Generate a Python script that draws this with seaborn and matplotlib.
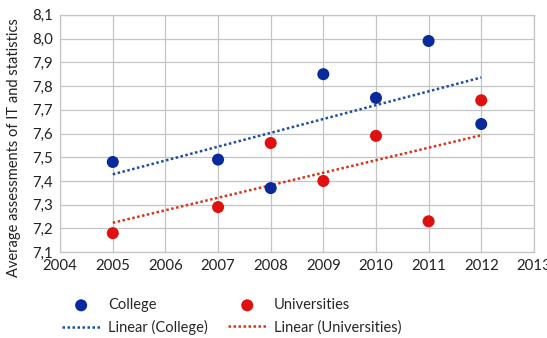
import numpy as np
import pandas as pd
import matplotlib
matplotlib.use("Agg")
import matplotlib.pyplot as plt
from matplotlib.ticker import FuncFormatter, MultipleLocator
import seaborn as sns

years = [2005, 2007, 2008, 2009, 2010, 2011, 2012]
college = [7.48, 7.49, 7.37, 7.85, 7.75, 7.99, 7.64]
universities = [7.18, 7.29, 7.56, 7.40, 7.59, 7.23, 7.74]
x_ticks = list(range(2004, 2014))
y_label = "Average assessments of IT and statistics"

sns.set_theme(style="white")
plt.rcParams["font.family"] = ["Lato", "DejaVu Sans"]

df_c = pd.DataFrame({"year": years, "score": college})
df_u = pd.DataFrame({"year": years, "score": universities})

fig = plt.figure(figsize=(5.47, 3.38), dpi=100)
ax = fig.add_axes([0.110, 0.254, 0.866, 0.702])

c_pt, u_pt = "#0a2a9c", "#e01010"
c_ln, u_ln = "#1f4ea0", "#d83418"

sns.regplot(data=df_c, x="year", y="score", ax=ax, ci=None, scatter=False,
            line_kws=dict(color=c_ln, linestyle=(0, (1, 1)), linewidth=1.8),
            label="Linear (College)")
sns.regplot(data=df_u, x="year", y="score", ax=ax, ci=None, scatter=False,
            line_kws=dict(color=u_ln, linestyle=(0, (1, 1)), linewidth=1.8),
            label="Linear (Universities)")
sns.scatterplot(data=df_c, x="year", y="score", ax=ax, color=c_pt, s=75,
                edgecolor="none", label="College", zorder=5)
sns.scatterplot(data=df_u, x="year", y="score", ax=ax, color=u_pt, s=75,
                edgecolor="none", label="Universities", zorder=5)

ax.set_xlim(2004, 2013)
ax.set_ylim(7.1, 8.1)
ax.set_xticks(x_ticks)
ax.yaxis.set_major_locator(MultipleLocator(0.1))
ax.yaxis.set_major_formatter(FuncFormatter(lambda v, p: f"{v:.1f}".replace(".", ",")))
ax.grid(True, color="#c4c4c4", linewidth=0.9)
ax.set_axisbelow(True)
for s in ax.spines.values():
    s.set_color("#c4c4c4")
    s.set_linewidth(0.9)
ax.tick_params(axis="both", length=0, labelsize=10.8, colors="#222222", pad=5)
ax.set_xlabel("")
ax.set_ylabel(y_label, fontsize=10.5, color="#222222")
ax.yaxis.set_label_coords(-0.083, 0.44)

handles, labels = ax.get_legend_handles_labels()
order = [labels.index(n) for n in ["College", "Linear (College)", "Universities", "Linear (Universities)"]]
if ax.legend_:
    ax.legend_.remove()
fig.legend([handles[i] for i in order], [labels[i] for i in order],
           ncol=2, loc="lower left", bbox_to_anchor=(0.095, -0.022), frameon=False,
           fontsize=10.5, handlelength=2.6, columnspacing=1.4, labelspacing=0.55,
           handletextpad=0.55, borderaxespad=0.3)

fig.savefig("out.png", dpi=100)
